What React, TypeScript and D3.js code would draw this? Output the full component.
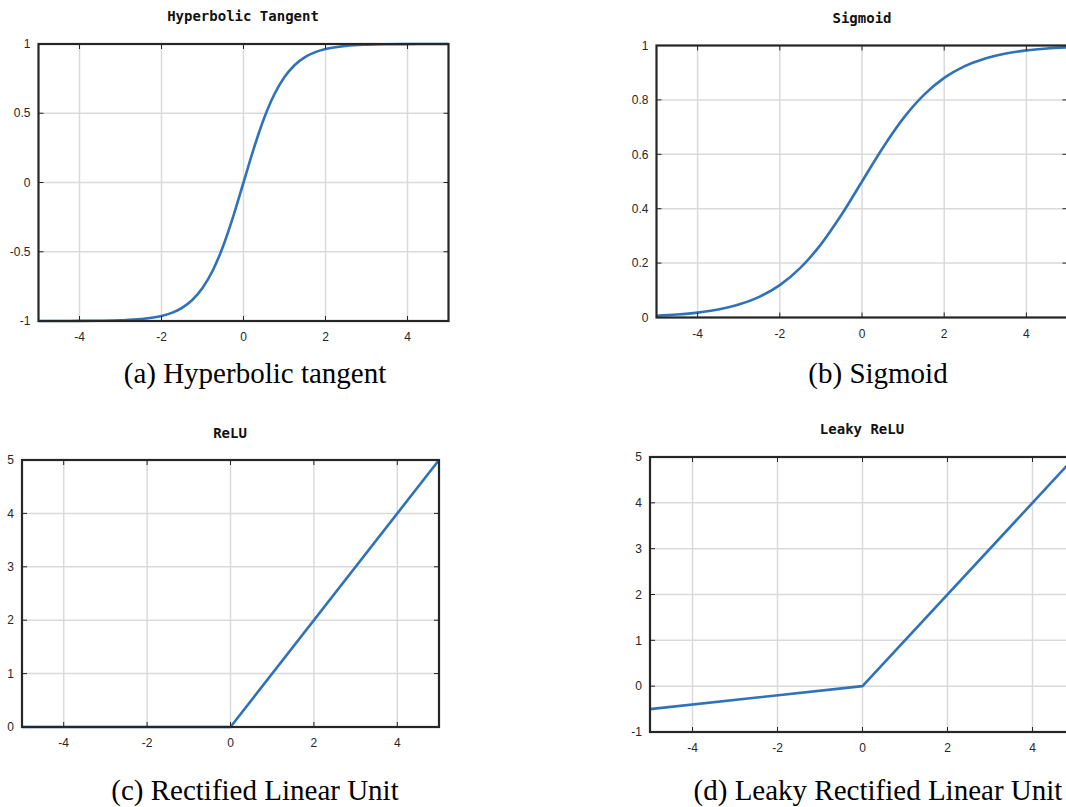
import React from 'react'
import * as d3 from 'd3'

// values
const tanhX = [-5, -4.5, -4, -3.5, -3, -2.5, -2, -1.75, -1.5, -1.25, -1, -0.75, -0.5, -0.25, 0, 0.25, 0.5, 0.75, 1, 1.25, 1.5, 1.75, 2, 2.5, 3, 3.5, 4, 4.5, 5]
const tanhY = [-0.9999, -0.9998, -0.9993, -0.9982, -0.9951, -0.9866, -0.964, -0.9414, -0.9051, -0.8483, -0.7616, -0.6351, -0.4621, -0.2449, 0, 0.2449, 0.4621, 0.6351, 0.7616, 0.8483, 0.9051, 0.9414, 0.964, 0.9866, 0.9951, 0.9982, 0.9993, 0.9998, 0.9999]

const sigX = [-5, -4.5, -4, -3.5, -3, -2.5, -2, -1.5, -1, -0.5, 0, 0.5, 1, 1.5, 2, 2.5, 3, 3.5, 4, 4.5, 5]
const sigY = [0.0067, 0.011, 0.018, 0.0293, 0.0474, 0.0759, 0.1192, 0.1824, 0.2689, 0.3775, 0.5, 0.6225, 0.7311, 0.8176, 0.8808, 0.9241, 0.9526, 0.9707, 0.982, 0.989, 0.9933]

const reluX = [-5, 0, 5]
const reluY = [0, 0, 5]

const leakyX = [-5, 0, 5]
const leakyY = [-0.5, 0, 5]

const xTicks = [-4, -2, 0, 2, 4]
const tanhTicks = [-1, -0.5, 0, 0.5, 1]
const sigTicks = [0, 0.2, 0.4, 0.6, 0.8, 1]
const reluTicks = [0, 1, 2, 3, 4, 5]
const leakyTicks = [-1, 0, 1, 2, 3, 4, 5]

const BLUE = '#2f72b9'
const DARK = '#262626'
const GRID = '#dadada'

const panels = [
  { title: 'Hyperbolic Tangent', caption: '(a) Hyperbolic tangent', xs: tanhX, ys: tanhY, yDomain: [-1, 1], yTicks: tanhTicks, smooth: true,
    left: 38.5, top: 44, width: 410, height: 277, titleX: 243, titleY: 21, capX: 255, capY: 383 },
  { title: 'Sigmoid', caption: '(b) Sigmoid', xs: sigX, ys: sigY, yDomain: [0, 1], yTicks: sigTicks, smooth: true,
    left: 656.5, top: 45.5, width: 411, height: 272, titleX: 862, titleY: 23, capX: 878, capY: 383 },
  { title: 'ReLU', caption: '(c) Rectified Linear Unit', xs: reluX, ys: reluY, yDomain: [0, 5], yTicks: reluTicks, smooth: false,
    left: 22, top: 460, width: 417, height: 267, titleX: 230, titleY: 438, capX: 255, capY: 800 },
  { title: 'Leaky ReLU', caption: '(d) Leaky Rectified Linear Unit', xs: leakyX, ys: leakyY, yDomain: [-1, 5], yTicks: leakyTicks, smooth: false,
    left: 650, top: 457, width: 425, height: 275, titleX: 862, titleY: 434, capX: 878, capY: 800 }
]

function Panel ({ p }: { p: any }) {
  const xScale = d3.scaleLinear().domain([-5, 5]).range([0, p.width])
  const yScale = d3.scaleLinear().domain(p.yDomain).range([p.height, 0])
  const line = d3.line<number>()
    .x((d, i) => xScale(p.xs[i]))
    .y(d => yScale(d))
    .curve(p.smooth ? d3.curveMonotoneX : d3.curveLinear)
  const tl = 5
  return <g>
    <text x={p.titleX} y={p.titleY} textAnchor='middle' fontFamily='DejaVu Sans Mono' fontWeight='bold' fontSize='14px' fill='#111'>{p.title}</text>
    <g transform={`translate(${p.left},${p.top})`}>
      {/* grid */}
      {xTicks.map((v, i) => <line key={'gx' + i} x1={xScale(v)} x2={xScale(v)} y1={0} y2={p.height} stroke={GRID} strokeWidth={1.5} />)}
      {p.yTicks.map((v: number, i: number) => <line key={'gy' + i} x1={0} x2={p.width} y1={yScale(v)} y2={yScale(v)} stroke={GRID} strokeWidth={1.5} />)}
      {/* curve */}
      <path d={line(p.ys) || ''} fill='none' stroke={BLUE} strokeWidth={2.6} strokeLinejoin='round' />
      {/* ticks on all four sides */}
      {xTicks.map((v, i) => <g key={'tx' + i}>
        <line x1={xScale(v)} x2={xScale(v)} y1={p.height} y2={p.height - tl} stroke={DARK} strokeWidth={1} />
        <line x1={xScale(v)} x2={xScale(v)} y1={0} y2={tl} stroke={DARK} strokeWidth={1} />
        <text x={xScale(v)} y={p.height + 20} textAnchor='middle' fontFamily='Liberation Sans' fontSize='12px' fill={DARK}>{v}</text>
      </g>)}
      {p.yTicks.map((v: number, i: number) => <g key={'ty' + i}>
        <line x1={0} x2={tl} y1={yScale(v)} y2={yScale(v)} stroke={DARK} strokeWidth={1} />
        <line x1={p.width} x2={p.width - tl} y1={yScale(v)} y2={yScale(v)} stroke={DARK} strokeWidth={1} />
        <text x={-8} y={yScale(v)} dy='0.35em' textAnchor='end' fontFamily='Liberation Sans' fontSize='12px' fill={DARK}>{v}</text>
      </g>)}
      <rect x={0} y={0} width={p.width} height={p.height} fill='none' stroke={DARK} strokeWidth={2.2} />
    </g>
    <text x={p.capX} y={p.capY} textAnchor='middle' fontFamily='Liberation Serif' fontSize='29px' fill='#000'>{p.caption}</text>
  </g>
}

export default function App () {
  return <svg width={1066} height={807} style={{ position: 'absolute', left: 0, top: 0, background: '#fff' }}>
    <rect width={1066} height={807} fill='#fff' />
    {panels.map((p, i) => <Panel key={i} p={p} />)}
  </svg>
}
